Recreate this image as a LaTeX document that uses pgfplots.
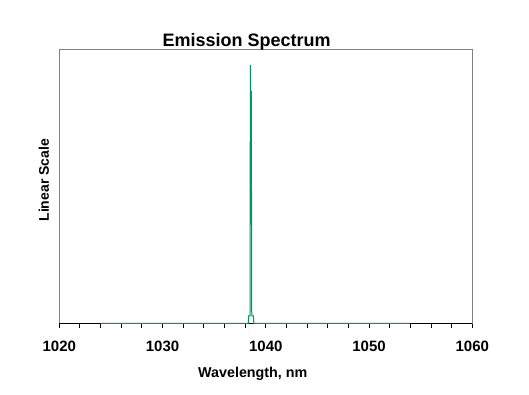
\documentclass[border=0pt]{standalone}
\usepackage{pgfplots}
\pgfplotsset{compat=1.18}
\usepackage{fontspec}
\setmainfont{Liberation Sans}
\definecolor{specgreen}{RGB}{0,150,100}
\definecolor{framegray}{RGB}{128,128,128}
\begin{document}
\begin{tikzpicture}
\path[use as bounding box, fill=white] (0,0) rectangle (529bp,395bp);
\begin{axis}[
  at={(59.3bp,71.7bp)}, anchor=south west,
  scale only axis, width=413bp, height=274bp,
  xmin=1020, xmax=1060, ymin=0, ymax=1,
  clip=false,
  axis line style={framegray, line width=1bp},
  xtick={1020,1030,1040,1050,1060},
  xticklabels={1020,1030,1040,1050,1060},
  minor xtick={1022,1024,1026,1028,1032,1034,1036,1038,1042,1044,1046,1048,1052,1054,1056,1058},
  ytick=\empty,
  xtick pos=bottom,
  tick align=outside,
  major tick length=5bp, minor tick length=5bp,
  every tick/.style={black, line width=1bp},
  /pgf/number format/assume math mode=true,
  xticklabel style={font=\bfseries\fontsize{15bp}{17bp}\selectfont, anchor=base, yshift=-23.4bp},
  title={Emission Spectrum},
  every axis title/.style={font=\bfseries\fontsize{18bp}{20bp}\selectfont, at={(axis description cs:0.4538,1.012)}, anchor=base},
  xlabel={Wavelength, nm},
  xlabel style={font=\bfseries\fontsize{14.3bp}{16bp}\selectfont, at={(axis description cs:0.4685,-0.1985)}, anchor=base},
  ylabel={Linear Scale},
  ylabel style={font=\bfseries\fontsize{14bp}{16bp}\selectfont, at={(axis description cs:-0.025,0.522)}, anchor=base},
]
\draw[black, line width=1bp] (rel axis cs:0,0) -- (rel axis cs:1,0);
\addplot[specgreen, line width=1bp, sharp plot, mark=none] coordinates {
  (1024,0) (1038.30,0) (1038.34,0.027) (1038.48,0.027) (1038.50,0.943)
  (1038.52,0.848) (1038.54,0.36) (1038.56,0.848) (1038.58,0.36) (1038.60,0.848)
  (1038.62,0.359) (1038.64,0.027) (1038.80,0.027)
  (1038.84,0) (1054,0)
};
\end{axis}
\end{tikzpicture}
\end{document}
